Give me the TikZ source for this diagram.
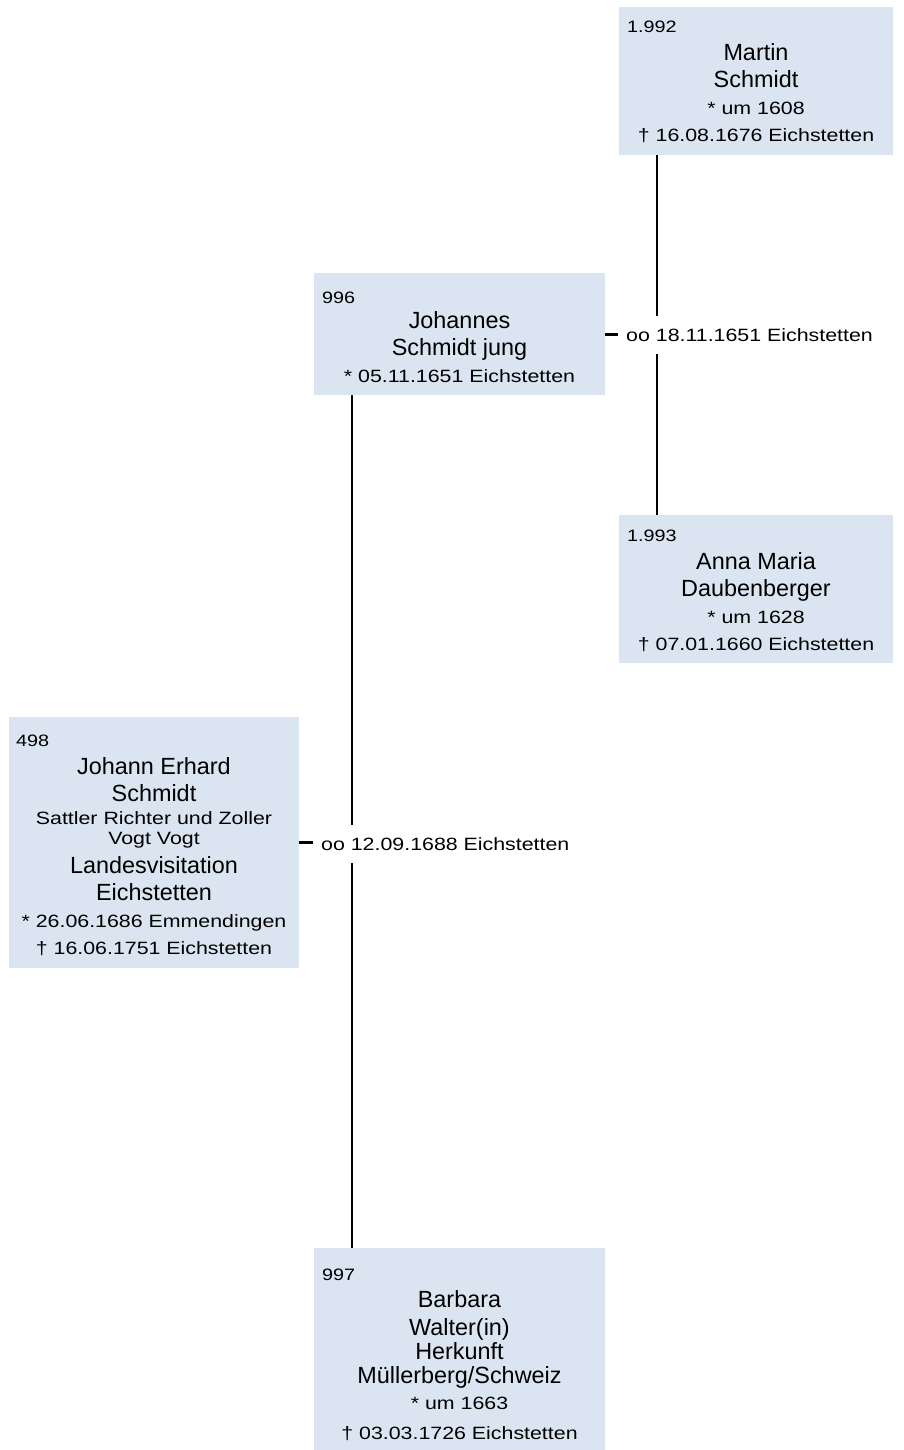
\documentclass[tikz,border=0pt]{standalone}
\usepackage{fontspec}
\setmainfont{Liberation Sans}
\newfontfamily\widesans[FakeStretch=1.2]{Liberation Sans}
\newcommand{\namefont}{\rmfamily\fontsize{23.4pt}{27pt}\selectfont}
\newcommand{\infofont}{\widesans\fontsize{17.8pt}{27pt}\selectfont}
\newcommand{\numfont}{\widesans\fontsize{16.5pt}{20pt}\selectfont}
\definecolor{boxblue}{RGB}{219,229,241}

\begin{document}
\begin{tikzpicture}[x=1pt, y=-1pt,
		person/.style={fill=boxblue, draw=none, anchor=north west, inner sep=0pt},
		lines/.style={align=center, inner sep=0pt, anchor=base, font=\infofont},
		number/.style={anchor=base west, inner sep=0pt, font=\numfont},
		marriage/.style={anchor=west, inner xsep=8pt, inner ysep=0pt, minimum height=38pt, font=\infofont},
		link/.style={line width=2.8pt}]
		\useasboundingbox (0,0) rectangle (903,1450);

		% boxes
		\node [person, minimum width=274pt, minimum height=148pt] (martin) at (619,7) {};
		\node [person, minimum width=291pt, minimum height=122pt] (johannes) at (314,273) {};
		\node [person, minimum width=274pt, minimum height=148pt] (anna) at (619,515) {};
		\node [person, minimum width=290pt, minimum height=251pt] (erhard) at (9,717) {};
		\node [person, minimum width=291pt, minimum height=202pt] (barbara) at (314,1248) {};

		% numbers
		\node [number] (martin-nr) at (627,33) {1.992};
		\node [number] (johannes-nr) at (322,303) {996};
		\node [number] (anna-nr) at (627,541) {1.993};
		\node [number] (erhard-nr) at (16,746) {498};
		\node [number] (barbara-nr) at (322,1280) {997};

		% texts
		\node [lines] (martin-t) at (756,141.5) {{\namefont Martin}\\{\namefont Schmidt}\\* um 1608\\† 16.08.1676 Eichstetten};
		\node [lines] (johannes-t) at (459.5,382.5) {{\namefont Johannes}\\{\namefont Schmidt jung}\\* 05.11.1651 Eichstetten};
		\node [lines] (anna-t) at (756,650.5) {{\namefont Anna Maria}\\{\namefont Daubenberger}\\* um 1628\\† 07.01.1660 Eichstetten};
		\node [lines] (erhard-t) at (154,954.5) {{\namefont Johann Erhard}\\{\namefont Schmidt}\\[-4pt]Sattler Richter und Zoller\\[-7pt]Vogt Vogt\\[2pt]{\namefont Landesvisitation}\\{\namefont Eichstetten}\\* 26.06.1686 Emmendingen\\† 16.06.1751 Eichstetten};
		\node [lines] (barbara-t) at (459.5,1439.5) {{\namefont Barbara}\\[1pt]{\namefont Walter(in)}\\[-3pt]{\namefont Herkunft}\\[-3pt]{\namefont Müllerberg/Schweiz}\\[-1pt]* um 1663\\[3pt]† 03.03.1726 Eichstetten};

		% marriages
		\node [marriage] (m1) at (618,335) {oo 18.11.1651 Eichstetten};
		\node [marriage] (m2) at (313,844) {oo 12.09.1688 Eichstetten};
		\coordinate (trunk1) at (657,0);
		\coordinate (trunk2) at (352,0);

		\draw [link] (martin.south -| trunk1) -- (m1.north -| trunk1);
		\draw [link] (m1.south -| trunk1) -- (anna.north -| trunk1);
		\draw [link] (johannes.east) -- (johannes.east -| m1.west);

		\draw [link] (johannes.south -| trunk2) -- (m2.north -| trunk2);
		\draw [link] (m2.south -| trunk2) -- (barbara.north -| trunk2);
		\draw [link] (erhard.east) -- (erhard.east -| m2.west);
	\end{tikzpicture}
\end{document}
